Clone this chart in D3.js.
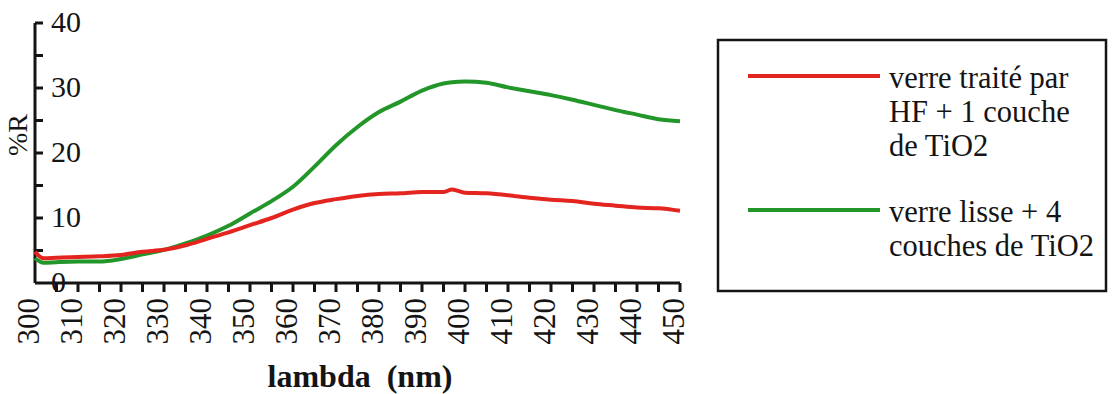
<!DOCTYPE html>
<html>
<head>
<meta charset="utf-8">
<script src="https://cdn.jsdelivr.net/npm/d3@7"></script>
</head>
<body style="margin:0">
<svg id="chart" width="1116" height="394"></svg>
<script>
// wavelengths (nm) and reflectance (%R)
const lambdaNm = [300, 302, 305, 310, 315, 320, 325, 330, 335, 340, 345, 350, 355, 360, 365, 370, 375, 380, 385, 390, 395, 397, 400, 405, 410, 415, 420, 425, 430, 435, 440, 445, 450];
const hfOneLayer = [4.8, 3.8, 3.9, 4.0, 4.1, 4.3, 4.8, 5.1, 5.8, 6.8, 7.8, 8.9, 10.0, 11.3, 12.3, 12.9, 13.4, 13.7, 13.8, 14.0, 14.0, 14.4, 13.9, 13.8, 13.5, 13.1, 12.8, 12.6, 12.2, 11.9, 11.6, 11.5, 11.1];
const smoothFourLayers = [3.8, 3.1, 3.2, 3.3, 3.3, 3.7, 4.4, 5.1, 6.1, 7.3, 8.8, 10.7, 12.6, 14.8, 17.9, 21.2, 24.0, 26.3, 27.9, 29.6, 30.7, 30.9, 31.0, 30.8, 30.1, 29.5, 28.9, 28.2, 27.4, 26.6, 25.9, 25.2, 24.9];

const xTicks = d3.range(300, 451, 10);
const yTicks = [0, 10, 20, 30, 40];

const legendItems = [
  { label: ["verre traité par", "HF + 1 couche", "de TiO2"], color: "#e3241f", values: hfOneLayer },
  { label: ["verre lisse + 4", "couches de TiO2"], color: "#23962a", values: smoothFourLayers }
];

const ink = "#141414";

const svg = d3.select("#chart");

const x = d3.scaleLinear().domain([300, 450]).range([35, 680]);
const y = d3.scaleLinear().domain([0, 40]).range([283, 23]);

// same call form as the font test that came out serif
function txt(sel, size) {
  return sel
    .attr("font-size", size)
    .style("font-family", () => `"Times New Roman", "Liberation Serif", "DejaVu Serif"`)
    .attr("fill", ink);
}

// axes
svg.append("line")
  .attr("x1", x(300)).attr("x2", x(300))
  .attr("y1", y(40)).attr("y2", y(0))
  .attr("stroke", ink).attr("stroke-width", 3);
svg.append("line")
  .attr("x1", x(300)).attr("x2", x(450))
  .attr("y1", y(0)).attr("y2", y(0))
  .attr("stroke", ink).attr("stroke-width", 3);

// y ticks every 5, pointing inside
svg.selectAll(".ytick")
  .data(d3.range(5, 41, 5))
  .join("line")
  .attr("class", "ytick")
  .attr("x1", x(300)).attr("x2", x(300) + 8)
  .attr("y1", d => y(d)).attr("y2", d => y(d))
  .attr("stroke", ink).attr("stroke-width", 3);

svg.selectAll(".ylab")
  .data(yTicks)
  .join("text")
  .attr("class", "ylab")
  .attr("x", 51)
  .attr("y", d => y(d) - 2)
  .attr("dy", "0.35em")
  .call(txt, 30)
  .text(d => d);

// x ticks every 5, pointing down
svg.selectAll(".xtick")
  .data(d3.range(305, 451, 5))
  .join("line")
  .attr("class", "xtick")
  .attr("x1", d => x(d)).attr("x2", d => x(d))
  .attr("y1", y(0)).attr("y2", y(0) + 9)
  .attr("stroke", ink).attr("stroke-width", 3);

svg.selectAll(".xlab")
  .data(xTicks)
  .join("text")
  .attr("class", "xlab")
  .attr("transform", d => `translate(${x(d)},${y(0) + 15}) rotate(-90)`)
  .attr("text-anchor", "end")
  .attr("dy", "0.12em")
  .call(txt, 31)
  .text(d => d);

svg.append("text")
  .attr("x", 360).attr("y", 387)
  .attr("text-anchor", "middle")
  .attr("font-weight", "bold")
  .call(txt, 32)
  .text("lambda\u00a0 (nm)");

svg.append("text")
  .attr("transform", `translate(27,135) rotate(-90)`)
  .attr("text-anchor", "middle")
  .call(txt, 28)
  .text("%R");

// curves
const line = d3.line()
  .x((d, i) => x(lambdaNm[i]))
  .y(d => y(d))
  .curve(d3.curveMonotoneX);

svg.selectAll(".series")
  .data(legendItems.slice().reverse())
  .join("path")
  .attr("class", "series")
  .attr("d", d => line(d.values))
  .attr("fill", "none")
  .attr("stroke", d => d.color)
  .attr("stroke-width", 4);

// legend
svg.append("rect")
  .attr("x", 718).attr("y", 40)
  .attr("width", 388).attr("height", 251)
  .attr("fill", "none").attr("stroke", ink).attr("stroke-width", 2.5);

const legendY = [76, 210];
legendItems.forEach((item, i) => {
  svg.append("line")
    .attr("x1", 748).attr("x2", 880)
    .attr("y1", legendY[i]).attr("y2", legendY[i])
    .attr("stroke", item.color).attr("stroke-width", 4);
  item.label.forEach((t, j) => {
    svg.append("text")
      .attr("x", 889)
      .attr("y", legendY[i] + 12 + j * 34)
      .call(txt, 30.5)
      .text(t);
  });
});
</script>
</body>
</html>
